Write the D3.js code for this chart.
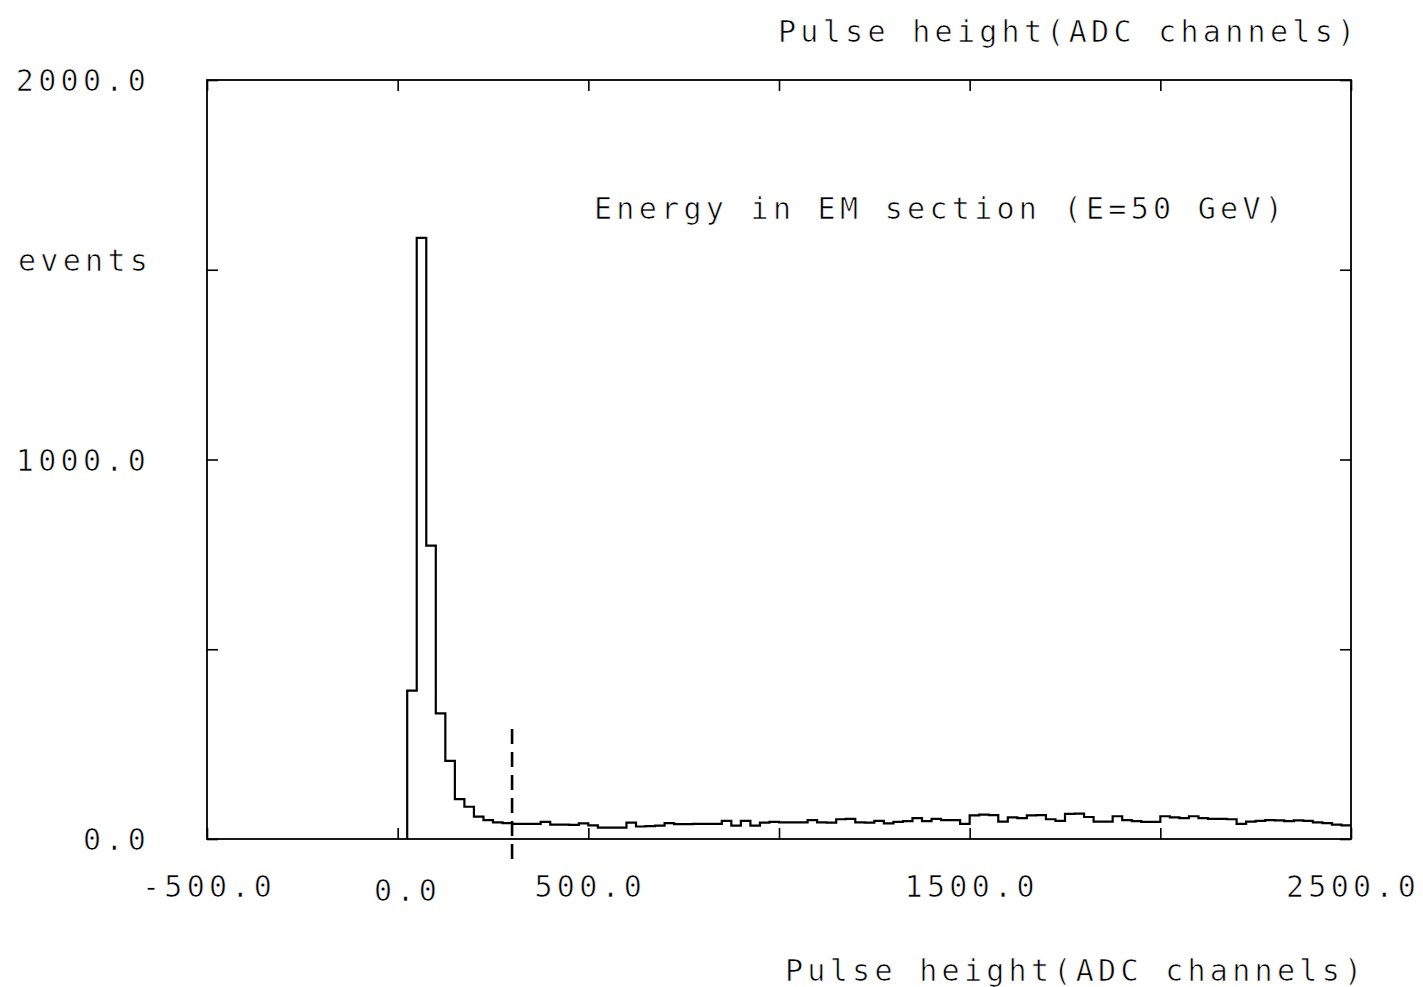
<!DOCTYPE html>
<html>
<head>
<meta charset="utf-8">
<script src="https://cdn.jsdelivr.net/npm/d3@7"></script>
<style>
  body { margin: 0; background: #fff; }
  text {
    font-family: "DejaVu Sans Mono", "Liberation Mono", monospace;
    font-size: 30px;
    letter-spacing: 4.3px;
    fill: #000;
    stroke: #fff;
    stroke-width: 0.7px;
  }
</style>
</head>
<body>
<svg id="chart"></svg>
<script>
const width = 1423;
const height = 987;

// bin lower edges (ADC channels), 25 channel wide bins
const binWidth = 25;
const binLow = d3.range(25, 2500, binWidth);
// events per bin
const counts = [
  391, 1584, 773, 331, 206, 105, 85, 59, 50,
  44, 42, 40, 40, 40, 45, 38, 38, 37, 41,
  36, 30, 30, 30, 43, 33, 34, 35, 42, 39,
  39, 40, 40, 40, 48, 35, 48, 35, 43, 45,
  44, 44, 44, 50, 44, 43, 52, 53, 44, 43,
  48, 41, 45, 47, 55, 47, 53, 50, 50, 40,
  62, 64, 63, 46, 57, 55, 62, 63, 52, 48,
  66, 67, 58, 46, 46, 60, 50, 47, 45, 45,
  60, 57, 55, 60, 55, 53, 53, 52, 40, 46,
  48, 50, 49, 47, 49, 48, 44, 42, 38, 36
];
const cutValue = 300;

const xTicks = [-500, 0, 500, 1000, 1500, 2000, 2500];
const xLabels = [
  { v: -500, t: "-500.0" },
  { v: 0, t: "0.0" },
  { v: 500, t: "500.0" },
  { v: 1500, t: "1500.0" },
  { v: 2500, t: "2500.0" }
];
const yTicks = [0, 500, 1000, 1500, 2000];
const yLabels = [
  { v: 2000, t: "2000.0" },
  { v: 1000, t: "1000.0" },
  { v: 0, t: "0.0" }
];

const margin = { left: 207, right: 1351, top: 80, bottom: 839 };

const svg = d3.select("#chart")
  .attr("width", width)
  .attr("height", height);

const x = d3.scaleLinear().domain([-500, 2500]).range([margin.left, margin.right]);
const y = d3.scaleLinear().domain([0, 2000]).range([margin.bottom, margin.top]);

// ticks on all four sides, pointing inward
const tickLen = 11;
svg.append("g")
  .attr("transform", `translate(0, ${margin.bottom})`)
  .call(d3.axisBottom(x).tickValues(xTicks).tickSize(-tickLen).tickFormat(""))
  .call(g => g.select(".domain").remove());
svg.append("g")
  .attr("transform", `translate(0, ${margin.top})`)
  .call(d3.axisTop(x).tickValues(xTicks).tickSize(-tickLen).tickFormat(""))
  .call(g => g.select(".domain").remove());
svg.append("g")
  .attr("transform", `translate(${margin.left}, 0)`)
  .call(d3.axisLeft(y).tickValues(yTicks).tickSize(-tickLen).tickFormat(""))
  .call(g => g.select(".domain").remove());
svg.append("g")
  .attr("transform", `translate(${margin.right}, 0)`)
  .call(d3.axisRight(y).tickValues(yTicks).tickSize(-tickLen).tickFormat(""))
  .call(g => g.select(".domain").remove());
svg.selectAll(".tick line").attr("stroke", "#000").attr("stroke-width", 1.6);

// frame
svg.append("rect")
  .attr("x", margin.left)
  .attr("y", margin.top)
  .attr("width", margin.right - margin.left)
  .attr("height", margin.bottom - margin.top)
  .attr("fill", "none")
  .attr("stroke", "#000")
  .attr("stroke-width", 1.8);

// histogram outline
const pts = [[binLow[0], 0]];
binLow.forEach((b, i) => pts.push([b, counts[i]]));
pts.push([binLow[binLow.length - 1] + binWidth, counts[counts.length - 1]]);

const line = d3.line()
  .x(d => x(d[0]))
  .y(d => y(d[1]))
  .curve(d3.curveStepAfter);

svg.append("path")
  .datum(pts)
  .attr("d", line)
  .attr("fill", "none")
  .attr("stroke", "#000")
  .attr("stroke-width", 2.2);

// cut line
svg.append("line")
  .attr("x1", x(cutValue))
  .attr("x2", x(cutValue))
  .attr("y1", y(290))
  .attr("y2", y(-70))
  .attr("stroke", "#000")
  .attr("stroke-width", 2.6)
  .attr("stroke-dasharray", "15,8");

// labels
svg.selectAll(".xlab")
  .data(xLabels)
  .enter()
  .append("text")
  .attr("class", "xlab")
  .attr("x", d => x(d.v) + (d.v === 0 ? 10 : 2))
  .attr("y", d => d.v === 0 ? 901 : 897)
  .attr("text-anchor", "middle")
  .text(d => d.t);

svg.selectAll(".ylab")
  .data(yLabels)
  .enter()
  .append("text")
  .attr("class", "ylab")
  .attr("x", 150)
  .attr("y", d => y(d.v) + 11)
  .attr("text-anchor", "end")
  .text(d => d.t);

svg.append("text").attr("x", 18).attr("y", 271).text("events");

svg.append("text").attr("x", 778).attr("y", 42).text("Pulse height(ADC channels)");
svg.append("text").attr("x", 785).attr("y", 981).text("Pulse height(ADC channels)");
svg.append("text").attr("x", 594).attr("y", 219).text("Energy in EM section (E=50 GeV)");
</script>
</body>
</html>
